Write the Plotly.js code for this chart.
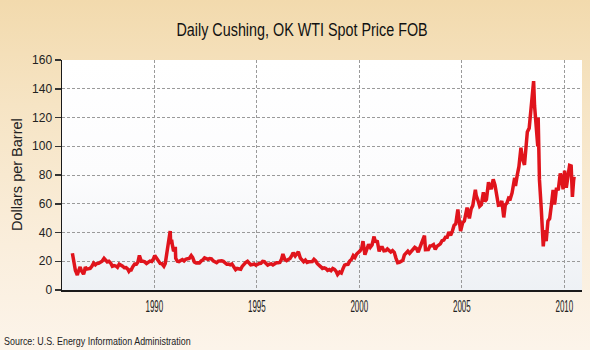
<!DOCTYPE html>
<html>
<head>
<meta charset="utf-8">
<script src="https://cdn.plot.ly/plotly-3.0.1.min.js"></script>
<style>
html,body{margin:0;padding:0;}
body{width:590px;height:350px;overflow:hidden;position:relative;
 background:linear-gradient(to bottom,#F2DAAD 0%,#F6E4C4 30%,#FAEEDC 70%,#FCF4EA 100%);}
#plotbg{position:absolute;left:62px;top:60px;width:520px;height:230px;
 background:linear-gradient(to bottom,#FFFFFF 0%,#FCFCFD 50%,#EEF1F5 100%);}
#chart{position:absolute;left:0;top:0;width:590px;height:350px;}
#chart .gtitle{transform-box:fill-box;transform-origin:center;transform:scaleX(0.82);}
#chart g.xtick{transform-box:fill-box;transform-origin:center;transform:scaleX(0.47);}
#chart .annotation[data-index="1"] text{transform-box:fill-box;transform-origin:left center;transform:scaleX(0.81);}
</style>
</head>
<body>
<div id="plotbg"></div>
<div id="chart"></div>
<script>
const chartTitle = "Daily Cushing, OK WTI Spot Price FOB";
const yAxisTitle = "Dollars per Barrel";
const sourceText = "Source: U.S. Energy Information Administration";
const tickYears = ["1990-01-01","1995-01-01","2000-01-01","2005-01-01","2010-01-01"];
const tickLabels = ["1990","1995","2000","2005","2010"];

const dates = [
"1986-01-02","1986-01-20","1986-02-05","1986-02-25","1986-03-15","1986-03-31","1986-04-15","1986-05-01","1986-05-20","1986-06-10",
"1986-07-01","1986-07-20","1986-08-05","1986-08-20","1986-09-15","1986-10-15","1986-11-15","1986-12-15",
"1987-01-15","1987-02-15","1987-03-15","1987-04-15","1987-05-15","1987-06-15","1987-07-20","1987-08-15","1987-09-15","1987-10-15","1987-11-15","1987-12-15",
"1988-01-15","1988-02-15","1988-03-15","1988-04-15","1988-05-15","1988-06-15","1988-07-15","1988-08-15","1988-09-15","1988-10-05","1988-10-25","1988-11-15","1988-12-15",
"1989-01-15","1989-02-15","1989-03-15","1989-04-10","1989-05-15","1989-06-15","1989-07-15","1989-08-15","1989-09-15","1989-10-15","1989-11-15","1989-12-15",
"1990-01-08","1990-02-15","1990-03-15","1990-04-15","1990-05-15","1990-06-20","1990-07-15","1990-08-05","1990-08-20","1990-09-10","1990-09-28","1990-10-11","1990-10-20","1990-11-05","1990-11-20","1990-12-10","1990-12-31",
"1991-01-10","1991-01-17","1991-02-15","1991-03-15","1991-04-15","1991-05-15","1991-06-15","1991-07-15","1991-08-15","1991-09-15","1991-10-20","1991-11-15","1991-12-15",
"1992-01-15","1992-02-15","1992-03-15","1992-04-15","1992-05-15","1992-06-15","1992-07-15","1992-08-15","1992-09-15","1992-10-15","1992-11-15","1992-12-15",
"1993-01-15","1993-02-15","1993-03-15","1993-04-15","1993-05-15","1993-06-15","1993-07-15","1993-08-15","1993-09-15","1993-10-15","1993-11-15","1993-12-20",
"1994-01-15","1994-02-15","1994-03-20","1994-04-15","1994-05-15","1994-06-15","1994-07-20","1994-08-15","1994-09-15","1994-10-15","1994-11-15","1994-12-15",
"1995-01-15","1995-02-15","1995-03-15","1995-04-15","1995-05-15","1995-06-15","1995-07-15","1995-08-15","1995-09-15","1995-10-15","1995-11-15","1995-12-15",
"1996-01-15","1996-02-15","1996-03-15","1996-04-10","1996-05-15","1996-06-15","1996-07-15","1996-08-15","1996-09-15","1996-10-10","1996-11-15","1996-12-15",
"1997-01-10","1997-02-15","1997-03-15","1997-04-15","1997-05-15","1997-06-15","1997-07-15","1997-08-15","1997-09-15","1997-10-15","1997-11-15","1997-12-15",
"1998-01-15","1998-02-15","1998-03-15","1998-04-15","1998-05-15","1998-06-15","1998-07-15","1998-08-15","1998-09-15","1998-10-15","1998-11-15","1998-12-10",
"1999-01-15","1999-02-15","1999-03-15","1999-04-15","1999-05-15","1999-06-15","1999-07-15","1999-08-15","1999-09-15","1999-10-15","1999-11-15","1999-12-15",
"2000-01-15","2000-02-15","2000-03-07","2000-04-10","2000-05-15","2000-06-15","2000-07-15","2000-08-15","2000-09-20","2000-10-15","2000-11-15","2000-12-20",
"2001-01-15","2001-02-15","2001-03-15","2001-04-15","2001-05-15","2001-06-15","2001-07-15","2001-08-15","2001-09-15","2001-10-15","2001-11-15","2001-12-15",
"2002-01-15","2002-02-15","2002-03-15","2002-04-15","2002-05-15","2002-06-15","2002-07-15","2002-08-15","2002-09-15","2002-10-15","2002-11-15","2002-12-15",
"2003-01-15","2003-03-07","2003-03-25","2003-04-15","2003-05-15","2003-06-15","2003-07-15","2003-08-15","2003-09-15","2003-10-15","2003-11-15","2003-12-15",
"2004-01-15","2004-02-15","2004-03-15","2004-04-15","2004-05-15","2004-06-15","2004-07-15","2004-08-15","2004-09-15","2004-10-22","2004-11-15","2004-12-10",
"2005-01-15","2005-02-15","2005-04-04","2005-05-15","2005-06-15","2005-07-15","2005-08-30","2005-09-15","2005-10-15","2005-11-15","2005-12-15",
"2006-01-20","2006-02-15","2006-03-15","2006-04-21","2006-05-15","2006-06-15","2006-07-14","2006-08-15","2006-09-15","2006-10-15","2006-11-15","2006-12-15",
"2007-01-18","2007-02-15","2007-03-15","2007-04-15","2007-05-15","2007-06-15","2007-07-31","2007-08-15","2007-09-15","2007-10-15","2007-11-20","2007-12-15",
"2008-01-22","2008-02-15","2008-03-13","2008-04-15","2008-05-15","2008-06-15","2008-07-03","2008-07-20","2008-08-15","2008-09-15","2008-09-22","2008-10-15","2008-11-15","2008-12-22",
"2009-01-15","2009-02-12","2009-03-15","2009-04-15","2009-05-15","2009-06-15","2009-07-12","2009-08-15","2009-09-15","2009-10-21","2009-11-15","2009-12-10",
"2010-01-06","2010-02-05","2010-03-15","2010-04-05","2010-05-03","2010-05-25","2010-06-15","2010-06-25"
];

const prices = [
25.6,20,16,13.5,12,10.4,12.5,14.5,16,13.5,
12,11,13,16,14.5,15,15,16.5,
18.7,17.5,18.5,18.6,19.4,20.0,22,20.5,19.5,20,18.8,16.5,
17,16.7,15.8,18,17.4,16.5,15.5,15.6,14.5,13,14,14,16.3,
18,17.9,19.5,24,20,20,19.6,18.5,19.6,20.1,19.8,21.5,
24,22,20.5,18.5,18.3,16.5,18.5,24,28,31,39,41,32,35,31,27,28,
30,22,20,19.8,20.8,21.2,20.2,21.4,21.7,22,24,22.5,19.5,
18.8,19,18.9,20.2,20.9,22.4,21.8,21.4,21.9,21.7,20.3,19.4,
19,20.1,20.3,20.3,19.9,19.1,17.9,18,17.5,18.1,16.7,14.2,
15,14.8,14.4,16.4,17.9,19.1,20,18.4,17.5,17.7,18.1,17.2,
18,18.5,18.6,19.9,19.7,18.4,17.3,17.9,18.2,17.4,18,19,
18.9,19.1,21.3,25,21.2,20.4,21.3,21.9,23.9,25.9,23.7,25.2,
26.5,22.2,21,19.7,20.8,19.2,19.6,19.9,19.8,21.3,20.2,18.3,
16.7,16.1,15,15.4,14.9,13.7,14.2,13.4,15,14.4,12.9,10.8,
12.5,11.8,14.7,17.3,17.8,17.9,20.1,21.3,23.9,22.6,25,26.1,
27.2,29.4,34,24.5,28.8,31.8,29.7,31.3,37.2,33.1,34.4,26.8,
29.6,29.6,27.2,27.4,28.6,27.6,26.4,27.4,26.2,22.2,19,19.3,
19.7,20.7,24.5,26.2,27,25.5,26.9,28.4,29.7,28.9,26.3,29.4,
32.9,37.8,28,28.3,28.1,30.7,30.8,31.6,28.3,30.3,31.1,32.1,
34.3,34.7,36.7,36.7,40.3,38,40.7,44.9,46,56,48.5,41,
46.8,48,57.3,49.8,56.3,58.7,69.8,65.6,62.4,58.3,59.4,
68,61.6,62.9,75,70.9,71,77,73,63.8,58.9,59.1,62,
50.5,59.3,60.4,64,63.5,67.5,78,72.4,79.9,85.8,99,91.7,
87,95.4,110,112.6,125.4,133.9,145.3,128,114,100,120,76.6,57.3,30.3,
41.7,34,47.9,49.7,59,69.6,59.5,71.1,69.4,81,78,70,
83,71.2,81.2,86.6,86.2,64.8,76,78.8
];

const trace = {
  x: dates, y: prices, type: "scatter", mode: "lines",
  line: {color: "#E0141C", width: 3.5},
  hoverinfo: "skip", showlegend: false
};

const layout = {
  width: 590, height: 350,
  margin: {l: 62, r: 8, t: 60, b: 60},
  paper_bgcolor: "rgba(0,0,0,0)",
  plot_bgcolor: "rgba(0,0,0,0)",
  title: {text: chartTitle, x: 0.512, xref: "container", xanchor: "center",
          y: 0.915, yref: "container", yanchor: "middle",
          font: {family: "Liberation Sans, Arial, sans-serif", size: 17.5, color: "#111"}},
  xaxis: {
    type: "date", range: ["1985-07-01", "2010-11-12"],
    tickvals: tickYears, ticktext: tickLabels,
    ticks: "", showline: true, linecolor: "#1a1a1a", linewidth: 2,
    showgrid: true, gridcolor: "#9a9a9a", gridwidth: 1, griddash: "3px,2px",
    zeroline: false,
    tickfont: {family: "Liberation Sans, Arial, sans-serif", size: 17, color: "#222"}
  },
  yaxis: {
    range: [0, 160], dtick: 20, tick0: 0,
    ticks: "outside", ticklen: 6, tickwidth: 1.5, tickcolor: "#333",
    showline: true, linecolor: "#1a1a1a", linewidth: 1.5,
    showgrid: true, gridcolor: "#9a9a9a", gridwidth: 1, griddash: "3px,2px",
    zeroline: false,
    tickfont: {family: "Liberation Sans, Arial, sans-serif", size: 12, color: "#222"}
  },
  annotations: [
    {text: yAxisTitle, xref: "paper", yref: "paper", x: -0.0865, y: 0.5,
     xanchor: "center", yanchor: "middle", textangle: -90, showarrow: false,
     font: {family: "Liberation Sans, Arial, sans-serif", size: 14.5, color: "#222"}},
    {text: sourceText, xref: "paper", yref: "paper", x: -0.1154, y: -0.222,
     xanchor: "left", yanchor: "middle", showarrow: false,
     font: {family: "Liberation Sans, Arial, sans-serif", size: 11, color: "#222"}}
  ]
};

Plotly.newPlot("chart", [trace], layout, {staticPlot: true, displayModeBar: false});
</script>
</body>
</html>
